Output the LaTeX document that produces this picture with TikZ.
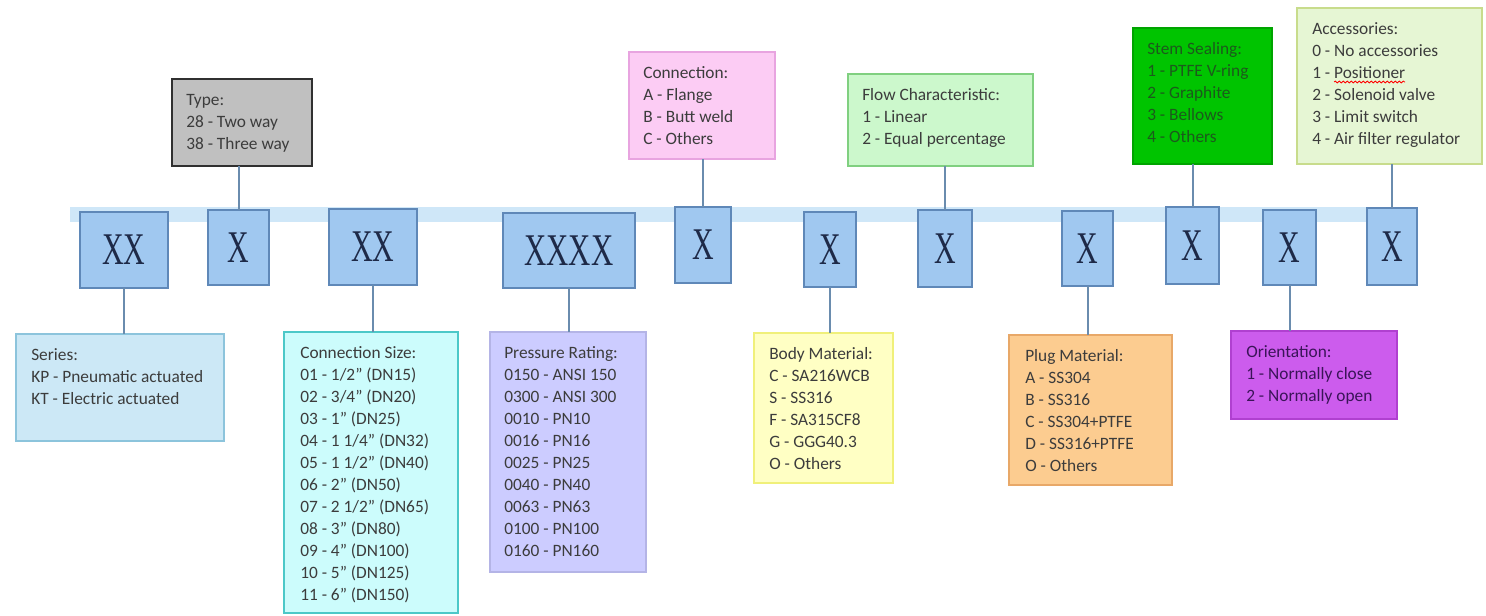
\documentclass[tikz,border=0pt]{standalone}
\usepackage{fontspec}
\setmainfont{Carlito}
\newfontfamily\xfont{Liberation Serif}
\usepackage{graphicx}
\usetikzlibrary{calc,decorations.pathmorphing}
\definecolor{band}{HTML}{CFE7F8}
\definecolor{xfill}{HTML}{A0C8F0}
\definecolor{xborder}{HTML}{5F88B8}
\definecolor{xtext}{HTML}{1E2A48}
\definecolor{conncol}{HTML}{6A8CAE}
\definecolor{txtgray}{HTML}{3C3C3C}
\definecolor{typefill}{HTML}{C0C0C0}
\definecolor{typeborder}{HTML}{303030}
\definecolor{pinkfill}{HTML}{FCCCF4}
\definecolor{pinkborder}{HTML}{E8A4E0}
\definecolor{flowfill}{HTML}{CCF8CC}
\definecolor{flowborder}{HTML}{80D080}
\definecolor{stemfill}{HTML}{00C400}
\definecolor{stemborder}{HTML}{00A400}
\definecolor{stemtext}{HTML}{1C5A1C}
\definecolor{accfill}{HTML}{E6F6D4}
\definecolor{accborder}{HTML}{C8DC8C}
\definecolor{serfill}{HTML}{CCE8F6}
\definecolor{serborder}{HTML}{8CC4DC}
\definecolor{csfill}{HTML}{CCFCFC}
\definecolor{csborder}{HTML}{4CC8C8}
\definecolor{prfill}{HTML}{CCCCFF}
\definecolor{prborder}{HTML}{B4B4E6}
\definecolor{bodyfill}{HTML}{FFFFC4}
\definecolor{bodyborder}{HTML}{F0F07A}
\definecolor{plugfill}{HTML}{FCCC90}
\definecolor{plugborder}{HTML}{E8A868}
\definecolor{orfill}{HTML}{CC5CED}
\definecolor{orborder}{HTML}{B040D0}
\definecolor{ortext}{HTML}{3A1458}
\begin{document}
\begin{tikzpicture}[x=0.75pt,y=-0.75pt,
  bw/.style={minimum width=#1*0.75pt},
  bh/.style={minimum height=#1*0.75pt},
  xbox/.style={draw=xborder, fill=xfill, line width=1.5pt, inner sep=0pt, outer sep=0pt,
    anchor=north west, font=\xfont\fontsize{34}{34}\selectfont, text=xtext},
  infobox/.style={line width=1.2pt, inner sep=0pt, outer sep=0pt, anchor=north west},
  txt/.style={inner sep=0pt, anchor=north west, align=left,
    font=\fontsize{13}{16.5}\selectfont, text=txtgray},
  conn/.style={draw=conncol, line width=1.5pt}]
\useasboundingbox[fill=white] (0,0) rectangle (1486,615);
% band
\fill[band] (70,207) rectangle (1405,222);
% code boxes
\node[xbox, bw=88, bh=76] (x1) at (80,212) {\scalebox{0.66}[1]{XX}};
\node[xbox, bw=61, bh=75] (x2) at (208,210) {\scalebox{0.66}[1]{X}};
\node[xbox, bw=88, bh=76] (x3) at (329,209) {\scalebox{0.66}[1]{XX}};
\node[xbox, bw=132, bh=75] (x4) at (503,213) {\scalebox{0.68}[1]{XXXX}};
\node[xbox, bw=56, bh=76] (x5) at (675,207) {\scalebox{0.66}[1]{X}};
\node[xbox, bw=52, bh=75] (x6) at (804,212) {\scalebox{0.66}[1]{X}};
\node[xbox, bw=54, bh=77] (x7) at (918,210) {\scalebox{0.66}[1]{X}};
\node[xbox, bw=51, bh=75] (x8) at (1062,211) {\scalebox{0.66}[1]{X}};
\node[xbox, bw=53, bh=77] (x9) at (1166,207) {\scalebox{0.66}[1]{X}};
\node[xbox, bw=53, bh=75] (x10) at (1263,210) {\scalebox{0.66}[1]{X}};
\node[xbox, bw=50, bh=77] (x11) at (1367,208) {\scalebox{0.66}[1]{X}};
% top boxes
\node[infobox, draw=typeborder, fill=typefill, bw=140, bh=87] (type) at (172,79) {};
\node[txt] (typeT) at ($(type.north west)+(14,13)$) {\rule{0pt}{10pt}Type:\\28 - Two way\\38 - Three way};
\node[infobox, draw=pinkborder, fill=pinkfill, bw=146, bh=107] (conx) at (629,52) {};
\node[txt] (conxT) at ($(conx.north west)+(14,13)$) {\rule{0pt}{10pt}Connection:\\A - Flange\\B - Butt weld\\C - Others};
\node[infobox, draw=flowborder, fill=flowfill, bw=185, bh=92] (flow) at (848,74) {};
\node[txt] (flowT) at ($(flow.north west)+(14,13)$) {\rule{0pt}{10pt}Flow Characteristic:\\1 - Linear\\2 - Equal percentage};
\node[infobox, draw=stemborder, fill=stemfill, bw=139, bh=136] (stem) at (1133,28) {};
\node[txt, text=stemtext] (stemT) at ($(stem.north west)+(14,13)$) {\rule{0pt}{10pt}Stem Sealing:\\1 - PTFE V-ring\\2 - Graphite\\3 - Bellows\\4 - Others};
\node[infobox, draw=accborder, fill=accfill, bw=185, bh=156] (acc) at (1297,8) {};
\node[txt] (accT) at ($(acc.north west)+(15,13)$) {\rule{0pt}{10pt}Accessories:\\0 - No accessories\\1 - Positioner\\2 - Solenoid valve\\3 - Limit switch\\4 - Air filter regulator};
\draw[red, line width=0.6pt, decorate, decoration={snake, amplitude=0.7pt, segment length=3pt}] (1334,82) -- (1405,82);
% bottom boxes
\node[infobox, draw=serborder, fill=serfill, bw=208, bh=107] (ser) at (16,334) {};
\node[txt] (serT) at ($(ser.north west)+(15,13)$) {\rule{0pt}{10pt}Series:\\KP - Pneumatic actuated\\KT - Electric actuated};
\node[infobox, draw=csborder, fill=csfill, bw=174, bh=281] (cs) at (284,332) {};
\node[txt] (csT) at ($(cs.north west)+(16,13)$) {\rule{0pt}{10pt}Connection Size:\\01 - 1/2" (DN15)\\02 - 3/4" (DN20)\\03 - 1" (DN25)\\04 - 1 1/4" (DN32)\\05 - 1 1/2" (DN40)\\06 - 2" (DN50)\\07 - 2 1/2" (DN65)\\08 - 3" (DN80)\\09 - 4" (DN100)\\10 - 5" (DN125)\\11 - 6" (DN150)};
\node[infobox, draw=prborder, fill=prfill, bw=156, bh=240] (pr) at (490,332) {};
\node[txt] (prT) at ($(pr.north west)+(14,13)$) {\rule{0pt}{10pt}Pressure Rating:\\0150 - ANSI 150\\0300 - ANSI 300\\0010 - PN10\\0016 - PN16\\0025 - PN25\\0040 - PN40\\0063 - PN63\\0100 - PN100\\0160 - PN160};
\node[infobox, draw=bodyborder, fill=bodyfill, bw=139, bh=150] (body) at (754,333) {};
\node[txt] (bodyT) at ($(body.north west)+(15,13)$) {\rule{0pt}{10pt}Body Material:\\C - SA216WCB\\S - SS316\\F - SA315CF8\\G - GGG40.3\\O - Others};
\node[infobox, draw=plugborder, fill=plugfill, bw=163, bh=150] (plug) at (1009,335) {};
\node[txt] (plugT) at ($(plug.north west)+(16,13)$) {\rule{0pt}{10pt}Plug Material:\\A - SS304\\B - SS316\\C - SS304+PTFE\\D - SS316+PTFE\\O - Others};
\node[infobox, draw=orborder, fill=orfill, bw=166, bh=88] (ori) at (1231,331) {};
\node[txt, text=ortext] (oriT) at ($(ori.north west)+(15,13)$) {\rule{0pt}{10pt}Orientation:\\1 - Normally close\\2 - Normally open};
% connectors
\draw[conn] (x2.north) -- (x2.north |- type.south);
\draw[conn] (x5.north) -- (x5.north |- conx.south);
\draw[conn] (x7.north) -- (x7.north |- flow.south);
\draw[conn] (x9.north) -- (x9.north |- stem.south);
\draw[conn] (x11.north) -- (x11.north |- acc.south);
\draw[conn] (x1.south) -- (x1.south |- ser.north);
\draw[conn] (x3.south) -- (x3.south |- cs.north);
\draw[conn] (x4.south) -- (x4.south |- pr.north);
\draw[conn] (x6.south) -- (x6.south |- body.north);
\draw[conn] (x8.south) -- (x8.south |- plug.north);
\draw[conn] (x10.south) -- (x10.south |- ori.north);
\end{tikzpicture}
\end{document}
